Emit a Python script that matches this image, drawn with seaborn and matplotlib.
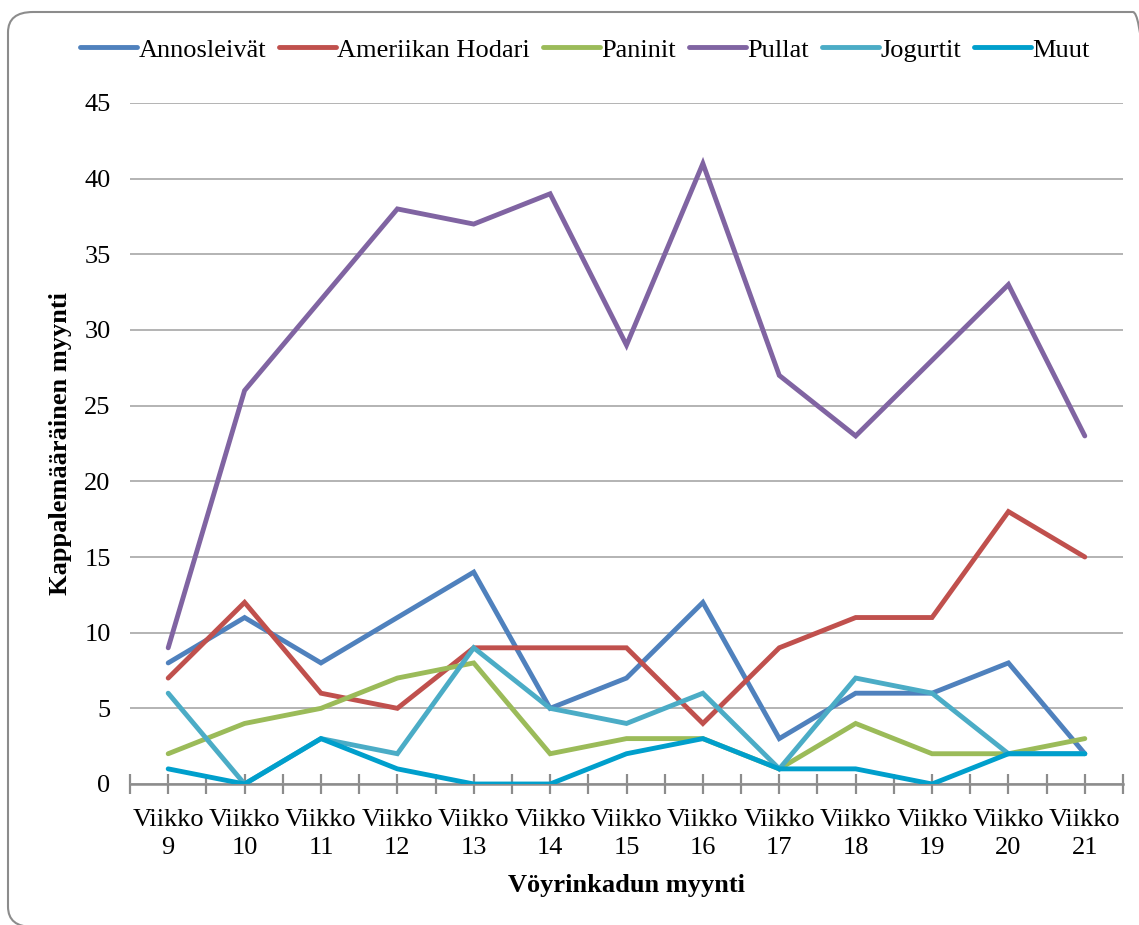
import numpy as np
import pandas as pd
import seaborn as sns
import matplotlib
matplotlib.use("Agg")
import matplotlib.pyplot as plt
from matplotlib.patches import FancyBboxPatch
from matplotlib.ticker import MultipleLocator, FixedLocator

# Weekly unit sales per product group
weeks = [9, 10, 11, 12, 13, 14, 15, 16, 17, 18, 19, 20, 21]
annosleivat = [8, 11, 8, 11, 14, 5, 7, 12, 3, 6, 6, 8, 2]
ameriikan_hodari = [7, 12, 6, 5, 9, 9, 9, 4, 9, 11, 11, 18, 15]
paninit = [2, 4, 5, 7, 8, 2, 3, 3, 1, 4, 2, 2, 3]
pullat = [9, 26, 32, 38, 37, 39, 29, 41, 27, 23, 28, 33, 23]
jogurtit = [6, 0, 3, 2, 9, 5, 4, 6, 1, 7, 6, 2, 2]
muut = [1, 0, 3, 1, 0, 0, 2, 3, 1, 1, 0, 2, 2]

series_names = ["Annosleivät", "Ameriikan Hodari", "Paninit", "Pullat", "Jogurtit", "Muut"]
series_values = [annosleivat, ameriikan_hodari, paninit, pullat, jogurtit, muut]
colors = ["#4F81BD", "#C0504D", "#9BBB59", "#8064A2", "#4BACC6", "#009FCC"]
tick_labels = [f"Viikko\n{w}" for w in weeks]

rows = []
for name, vals in zip(series_names, series_values):
    for i, v in enumerate(vals):
        rows.append({"pos": i, "value": v, "tuote": name})
df = pd.DataFrame(rows)

sns.set_theme(style="white")
plt.rcParams["font.family"] = ["Liberation Serif", "DejaVu Serif"]
plt.rcParams["text.color"] = "black"
plt.rcParams["axes.labelcolor"] = "black"
plt.rcParams["xtick.color"] = "black"
plt.rcParams["ytick.color"] = "black"
FS = 19

fig = plt.figure(figsize=(11.39, 9.25), dpi=100)
ax = fig.add_axes([130 / 1139, 1 - 784 / 925, 993 / 1139, 681 / 925])

sns.lineplot(data=df, x="pos", y="value", hue="tuote", hue_order=series_names,
             palette=colors, linewidth=3.5, ax=ax, legend=False,
             solid_capstyle="round", solid_joinstyle="miter", zorder=3)

ax.set_xlim(-0.5, len(weeks) - 0.5)
ax.set_ylim(0, 45)
ax.yaxis.set_major_locator(MultipleLocator(5))
ax.grid(axis="y", color="#B3B3B3", linewidth=1.4, zorder=0)
ax.grid(axis="x", visible=False)

ax.set_xticks(range(len(weeks)))
ax.set_xticklabels(tick_labels, fontsize=FS, linespacing=1.35)
ax.xaxis.set_minor_locator(FixedLocator(np.arange(-0.5, len(weeks), 1.0)))
ax.tick_params(axis="x", which="both", direction="inout", length=14, width=1.6,
               color="#8C8C8C", labelcolor="black", bottom=True, pad=11)
ax.tick_params(axis="y", length=0, labelsize=FS, labelcolor="black", pad=14)

for side in ["left", "right", "top"]:
    ax.spines[side].set_visible(False)
ax.spines["bottom"].set_color("#8C8C8C")
ax.spines["bottom"].set_linewidth(1.8)
ax.spines["bottom"].set_zorder(2)

ax.set_xlabel("Vöyrinkadun myynti", fontsize=FS, fontweight="bold", labelpad=11)
ax.set_ylabel("Kappalemääräinen myynti", fontsize=FS, fontweight="bold", labelpad=9)

handles = [plt.Line2D([0], [0], color=c, linewidth=3.5, solid_capstyle="round")
           for c in colors]
fig.legend(handles, series_names, loc="center", ncol=6,
           bbox_to_anchor=(585 / 1139, 1 - 50 / 925), frameon=False,
           fontsize=FS, handlelength=2.15, handletextpad=0.05, columnspacing=0.5,
           borderpad=0, borderaxespad=0, labelcolor="black")

# Rounded chart-area frame
frame = FancyBboxPatch((8 / 1139, -2 / 925), 1150 / 1139, 915 / 925,
                       boxstyle="round,pad=0,rounding_size=0.022",
                       transform=fig.transFigure, fill=False,
                       edgecolor="#8C8C8C", linewidth=1.5, zorder=-1)
fig.patches.append(frame)

fig.savefig("out.png", dpi=100)
